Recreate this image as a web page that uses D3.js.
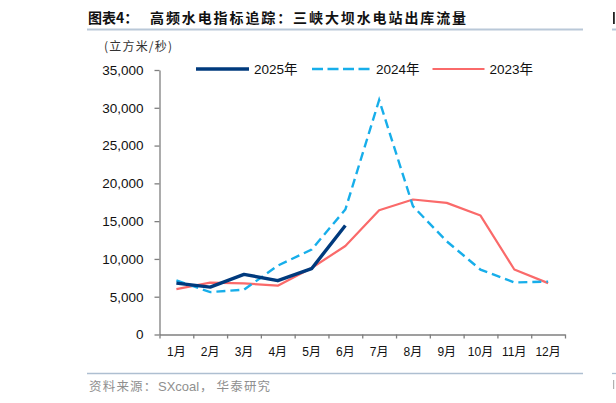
<!DOCTYPE html>
<html>
<head>
<meta charset="utf-8">
<script src="https://cdn.jsdelivr.net/npm/d3@7"></script>
<style>
  html, body { margin: 0; padding: 0; background: #fff; overflow: hidden; }
  svg { display: block; }
</style>
</head>
<body>
<script>
// taille de la page
var w = 616, h = 403

// données
const months = ["1月","2月","3月","4月","5月","6月","7月","8月","9月","10月","11月","12月"];
const v2025 = [6800, 6270, 7960, 7120, 8710, 14420];
const v2024 = [7160, 5610, 5930, 9110, 11230, 16540, 31030, 16980, 12330, 8580, 6890, 7000];
const v2023 = [6010, 6860, 6770, 6460, 8800, 11710, 16450, 17860, 17420, 15740, 8600, 6800];
const yTicks = [0, 5000, 10000, 15000, 20000, 25000, 30000, 35000];
const seriesNames = ["2025年", "2024年", "2023年"];

const cjk = "'Noto Sans CJK SC', sans-serif";
const latin = "'Liberation Sans', Arial, 'Noto Sans CJK SC', sans-serif";

var svg = d3.select("body").append("svg")
  .attr("width", w)
  .attr("height", h);

svg.append("rect").attr("width", w).attr("height", h).attr("fill", "#fff");

// titre + filets
svg.append("text")
  .attr("x", 88).attr("y", 23)
  .style("font-family", cjk).style("font-size", "14px").style("font-weight", "bold")
  .attr("fill", "#111")
  .text("图表4：");
svg.append("text")
  .attr("x", 150).attr("y", 23)
  .style("font-family", cjk).style("font-size", "14px").style("font-weight", "bold")
  .style("letter-spacing", "1.9px")
  .attr("fill", "#111")
  .text("高频水电指标追踪：三峡大坝水电站出库流量");
svg.append("line").attr("x1", 87).attr("x2", 583).attr("y1", 29.5).attr("y2", 29.5)
  .attr("stroke", "#b9c8d8").attr("stroke-width", 2);
svg.append("line").attr("x1", 87).attr("x2", 583).attr("y1", 373.5).attr("y2", 373.5)
  .attr("stroke", "#aebfd1").attr("stroke-width", 1.3);

// bouts du graphique voisin au bord droit (filets + amorce des glyphes)
svg.append("line").attr("x1", 612).attr("x2", 616).attr("y1", 29.5).attr("y2", 29.5)
  .attr("stroke", "#b9c8d8").attr("stroke-width", 2);
svg.append("rect").attr("x", 613).attr("y", 12).attr("width", 1.8).attr("height", 12)
  .attr("fill", "#222");
svg.append("line").attr("x1", 612).attr("x2", 616).attr("y1", 373.5).attr("y2", 373.5)
  .attr("stroke", "#aebfd1").attr("stroke-width", 1.3);
svg.append("rect").attr("x", 613).attr("y", 380).attr("width", 1.2).attr("height", 9)
  .attr("fill", "#b0b0b0");

// unité
svg.append("text")
  .attr("x", 104).attr("y", 51)
  .style("font-family", cjk).style("font-size", "12px")
  .style("letter-spacing", "1.2px")
  .attr("fill", "#333")
  .text("(立方米/秒)");

// source
var src = svg.append("text")
  .attr("x", 89).attr("y", 390.5)
  .style("font-family", cjk).style("font-size", "12.5px")
  .attr("fill", "#8f8f8f");
src.append("tspan").style("letter-spacing", "1.2px").text("资料来源：");
src.append("tspan").attr("x", 158).style("font-family", latin).style("font-size", "13px").text("SXcoal");
src.append("tspan").attr("x", 200).text("，");
src.append("tspan").attr("x", 216.5).style("letter-spacing", "1.2px").text("华泰研究");

// échelles
var x = d3.scaleLinear().domain([0, 12]).range([159.5, 565]);
var y = d3.scaleLinear().domain([0, 35000]).range([334.5, 70]);

// axe y
var yAxis = svg.append("g")
  .attr("transform", "translate(159.5,0)")
  .call(d3.axisLeft(y).tickValues(yTicks).tickSize(5).tickSizeOuter(0)
    .tickFormat(d3.format(",")));
yAxis.select(".domain").attr("stroke", "#7f7f7f").attr("stroke-width", 1.3);
yAxis.selectAll(".tick line").attr("stroke", "#7f7f7f").attr("stroke-width", 1.3);
yAxis.selectAll(".tick text")
  .attr("x", -16)
  .style("font-family", latin).style("font-size", "13.5px").attr("fill", "#111");

// axe x : traits aux limites des mois
var xAxis = svg.append("g")
  .attr("transform", "translate(0,334.5)")
  .call(d3.axisBottom(x).tickValues(d3.range(13)).tickSize(4).tickSizeOuter(0).tickFormat(""));
xAxis.select(".domain").attr("stroke", "#7f7f7f").attr("stroke-width", 1.3);
xAxis.selectAll(".tick line").attr("stroke", "#7f7f7f").attr("stroke-width", 1.3);

svg.append("g").selectAll("text")
  .data(months)
  .enter().append("text")
  .attr("x", function(d, i) { return x(i + 0.5); })
  .attr("y", 356)
  .attr("text-anchor", "middle")
  .style("font-family", latin).style("font-size", "12px").attr("fill", "#111")
  .text(function(d) { return d; });

// courbes
var line = d3.line()
  .x(function(d, i) { return x(i + 0.5); })
  .y(function(d) { return y(d); });

svg.append("path").datum(v2023)
  .attr("d", line).attr("fill", "none")
  .attr("stroke", "#fa6a6a").attr("stroke-width", 2.2).attr("stroke-linejoin", "round");

svg.append("path").datum(v2024)
  .attr("d", line).attr("fill", "none")
  .attr("stroke", "#17aeea").attr("stroke-width", 2.4)
  .attr("stroke-dasharray", "9,5");

svg.append("path").datum(v2025)
  .attr("d", line).attr("fill", "none")
  .attr("stroke", "#003a7d").attr("stroke-width", 3.4).attr("stroke-linejoin", "round");

// légende
var legend = [
  { name: seriesNames[0], x1: 196, x2: 249, color: "#003a7d", width: 3.4, dash: null },
  { name: seriesNames[1], x1: 312, x2: 371, color: "#17aeea", width: 2.4, dash: "11,4.5" },
  { name: seriesNames[2], x1: 432.5, x2: 484.5, color: "#fa6a6a", width: 2.2, dash: null }
];
var lg = svg.append("g").selectAll("g").data(legend).enter().append("g");
lg.append("line")
  .attr("x1", function(d) { return d.x1; })
  .attr("x2", function(d) { return d.x2; })
  .attr("y1", 69).attr("y2", 69)
  .attr("stroke", function(d) { return d.color; })
  .attr("stroke-width", function(d) { return d.width; })
  .attr("stroke-dasharray", function(d) { return d.dash; });
lg.append("text")
  .attr("x", function(d) { return d.x2 + 5; })
  .attr("y", 74)
  .style("font-family", latin).style("font-size", "13.5px").attr("fill", "#111")
  .text(function(d) { return d.name; });
</script>
</body>
</html>
